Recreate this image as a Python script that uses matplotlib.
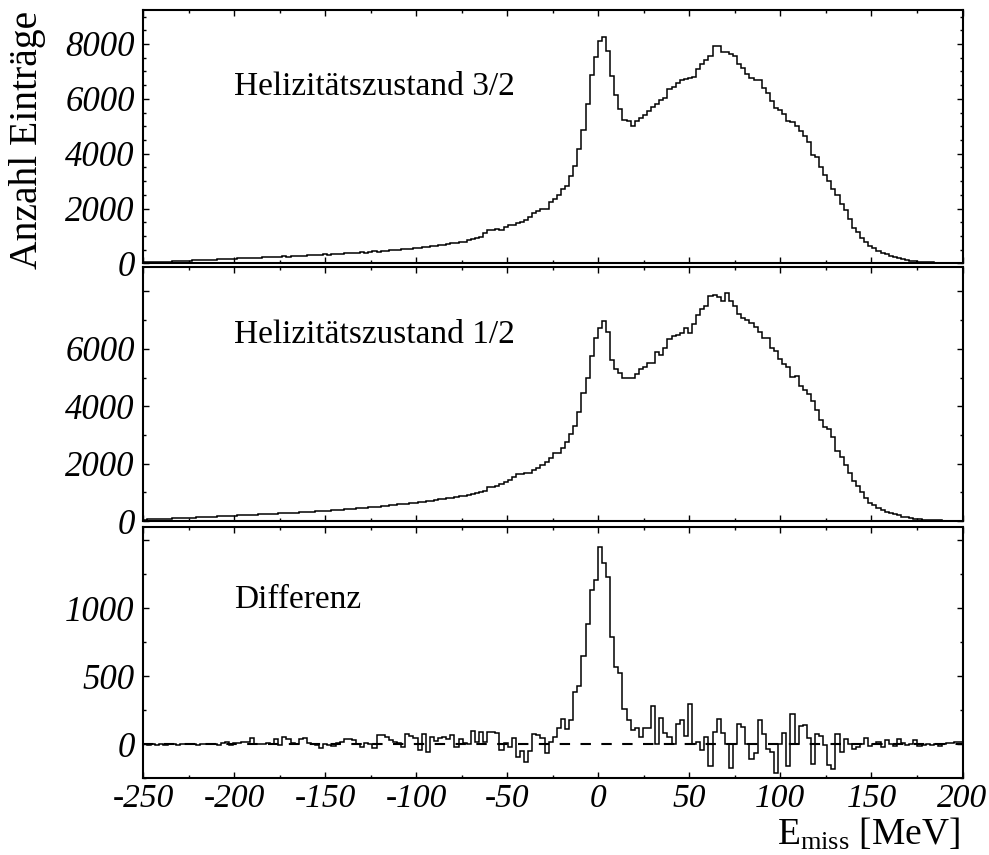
import numpy as np
import matplotlib
matplotlib.use("Agg")
import matplotlib.pyplot as plt

plt.rcParams['font.family'] = ['Liberation Serif', 'DejaVu Serif']
plt.rcParams['mathtext.fontset'] = 'custom'
plt.rcParams['mathtext.rm'] = 'Liberation Serif'
plt.rcParams['mathtext.it'] = 'Liberation Serif:italic'

# histogram binning: 200 bins from -250 to 200 MeV
e_lo, e_hi, n_bins = -250.0, 200.0, 200

# Helizitaetszustand 3/2
counts_32 = [
    40, 45, 50, 55, 60, 65, 70, 75, 82, 88,
    95, 100, 110, 115, 120, 130, 135, 140, 150, 160,
    165, 175, 180, 185, 195, 190, 205, 215, 210, 225,
    230, 240, 235, 250, 260, 255, 270, 280, 275, 290,
    295, 305, 300, 320, 330, 325, 345, 355, 350, 370,
    380, 375, 395, 410, 400, 420, 440, 430, 455, 470,
    480, 495, 505, 520, 515, 545, 560, 575, 590, 600,
    625, 640, 660, 690, 700, 730, 760, 780, 800, 850,
    890, 930, 980, 1117, 1238, 1238, 1274, 1214, 1334, 1419,
    1419, 1479, 1515, 1600, 1696, 1841, 1913, 1999, 1999, 2240,
    2361, 2482, 2723, 2820, 3206, 3544, 4172, 4873, 5803, 6855,
    7519, 8097, 8254, 7759, 6831, 6143, 5624, 5225, 5177, 5020,
    5201, 5298, 5418, 5563, 5708, 5803, 5948, 6045, 6347, 6432,
    6565, 6673, 6734, 6770, 6806, 7096, 7253, 7434, 7579, 7918,
    7918, 7700, 7700, 7652, 7555, 7253, 7132, 6891, 6746, 6673,
    6673, 6408, 6202, 5924, 5683, 5586, 5465, 5175, 5139, 5018,
    4813, 4644, 4415, 3968, 3895, 3533, 3243, 3002, 2724, 2482,
    2156, 1939, 1613, 1311, 1130, 936, 779, 646, 550, 453,
    393, 333, 260, 224, 188, 152, 128, 91, 79, 67,
    55, 45, 38, 30, 25, 20, 15, 12, 10, 8,
]

# Helizitaetszustand 1/2
counts_12 = [
    50, 55, 60, 65, 70, 75, 80, 88, 95, 100,
    110, 115, 120, 130, 135, 140, 148, 155, 160, 170,
    175, 180, 190, 195, 200, 210, 205, 220, 230, 235,
    240, 250, 255, 265, 270, 280, 290, 295, 300, 310,
    320, 330, 335, 350, 360, 365, 380, 390, 395, 410,
    420, 430, 445, 455, 470, 480, 490, 505, 520, 530,
    545, 560, 575, 590, 605, 620, 640, 655, 670, 690,
    710, 730, 750, 770, 790, 810, 840, 860, 885, 915,
    945, 975, 1010, 1056, 1172, 1172, 1219, 1289, 1370, 1428,
    1544, 1637, 1637, 1660, 1684, 1776, 1858, 1951, 2067, 2206,
    2357, 2357, 2531, 2764, 3031, 3322, 3809, 4471, 4971, 5749,
    6365, 6713, 6980, 6597, 5610, 5285, 5145, 4994, 4994, 4971,
    5110, 5285, 5378, 5494, 5517, 5899, 5783, 6015, 6329, 6445,
    6480, 6538, 6736, 6538, 6864, 7177, 7375, 7491, 7840, 7875,
    7817, 7677, 7933, 7677, 7491, 7212, 7061, 7003, 6910, 6771,
    6597, 6364, 6364, 6016, 5934, 5632, 5470, 5354, 5005, 5052,
    4703, 4564, 4425, 4193, 3867, 3519, 3287, 3194, 2938, 2439,
    2241, 1951, 1684, 1405, 1219, 1010, 790, 639, 557, 441,
    383, 314, 267, 232, 197, 151, 128, 105, 81, 58,
    48, 40, 32, 26, 20, 16, 12, 9, 7, 5,
]

# Differenz
counts_diff = [
    0, -5, 3, -3, 0, -8, 0, 3, -3, 0,
    0, 5, 2, -3, 5, 3, 0, 5, -3, 8,
    15, -5, 10, 12, 15, 20, 49, 0, 0, 0,
    7, 0, 39, -5, 51, 39, 7, 0, 39, 49,
    7, 0, -5, -29, 0, -5, -10, 7, 15, 39,
    39, 32, 0, -17, 7, 0, -24, 68, 68, 51,
    32, 19, 7, -17, 75, 61, 44, -41, 75, -53,
    56, 24, 44, 51, 39, 68, -17, 39, 7, 0,
    97, 19, 87, 19, 92, 87, 80, -41, 7, -17,
    44, -97, -46, -131, -49, 75, 68, 44, -66, 19,
    56, 117, 185, 112, 182, 384, 428, 651, 882, 1132,
    1210, 1452, 1332, 1234, 792, 566, 525, 262, 177, 104,
    117, 56, 122, 122, 282, 0, 194, 85, 56, 0,
    146, 177, 63, 296, 0, 19, -41, 56, -158, 87,
    185, 85, 0, -175, 0, 146, 129, 0, -107, -66,
    177, 75, -34, -53, -211, 0, 80, -158, 224, 0,
    136, 141, 44, -146, 73, 63, -5, -151, -180, 73,
    -58, 39, 0, -34, -17, 0, 44, -10, 0, 15,
    -17, 32, 0, -10, 39, 7, -5, 0, 32, -10,
    -5, 0, -5, 0, -10, 0, 7, 12, 15, 15,
]

x_ticks = [-250, -200, -150, -100, -50, 0, 50, 100, 150, 200]
panel_labels = ['Helizitätszustand 3/2', 'Helizitätszustand 1/2', 'Differenz']

edges = np.linspace(e_lo, e_hi, n_bins + 1)

fig = plt.figure(figsize=(9.89, 8.55), dpi=100)
left, width = 143 / 989, (962.5 - 143) / 989
ax_top = fig.add_axes([left, 1 - 263.5 / 855, width, (263.5 - 10.5) / 855])
ax_mid = fig.add_axes([left, 1 - 521 / 855, width, (521 - 267.3) / 855])
ax_bot = fig.add_axes([left, 1 - 778.3 / 855, width, (778.3 - 527.3) / 855])

tick_fs = 25
text_fs = 24

for ax, vals in zip([ax_top, ax_mid, ax_bot], [counts_32, counts_12, counts_diff]):
    ax.stairs(vals, edges, color='black', linewidth=1.1, baseline=None)
    ax.set_xlim(e_lo, e_hi)
    for s in ax.spines.values():
        s.set_linewidth(1.5)
    ax.set_xticks(x_ticks)
    ax.set_xticks(np.arange(-250, 201, 25), minor=True)
    ax.tick_params(which='both', direction='in', top=True, right=True, width=1.0)
    ax.tick_params(which='major', length=4.5)
    ax.tick_params(which='minor', length=2.5)
    ax.tick_params(axis='y', pad=6)

# top panel
ax_top.set_ylim(0, 9220)
ax_top.set_yticks([0, 2000, 4000, 6000, 8000], ['0', '2000', '4000', '6000', '8000'],
                  fontsize=tick_fs, fontstyle='italic')
ax_top.set_yticks(np.arange(0, 9001, 500), minor=True)
ax_top.tick_params(labelbottom=False)

# middle panel
ax_mid.set_ylim(0, 8840)
ax_mid.set_yticks([0, 2000, 4000, 6000, 8000], ['0', '2000', '4000', '6000', ''],
                  fontsize=tick_fs, fontstyle='italic')
ax_mid.set_yticks(np.arange(0, 8001, 1000), minor=True)
ax_mid.tick_params(labelbottom=False)

# bottom panel
ax_bot.set_ylim(-233, 1596)
ax_bot.set_yticks([0, 500, 1000, 1500], ['0', '500', '1000', ''],
                  fontsize=tick_fs, fontstyle='italic')
ax_bot.set_yticks(np.arange(-250, 1600, 250), minor=True)
ax_bot.axhline(0, color='black', linewidth=1.5, linestyle=(0, (5, 5)), zorder=1)
ax_bot.set_xticks(x_ticks, [str(v) for v in x_ticks], fontsize=24, fontstyle='italic')
ax_bot.tick_params(axis='x', pad=4)

# panel captions
ax_top.text(-200, 6140, panel_labels[0], fontsize=text_fs, va='baseline', ha='left')
ax_mid.text(-200, 6200, panel_labels[1], fontsize=text_fs, va='baseline', ha='left')
ax_bot.text(-200, 1000, panel_labels[2], fontsize=text_fs, va='baseline', ha='left')

fig.text(28 / 989, 1 - 10.5 / 855, 'Anzahl Einträge', rotation=90,
         ha='center', va='top', fontsize=28.5)
fig.text(960 / 989, 1 - 845 / 855, r'E$_{\mathrm{miss}}$ [MeV]',
         ha='right', va='baseline', fontsize=27)

fig.savefig('out.png', dpi=100)
